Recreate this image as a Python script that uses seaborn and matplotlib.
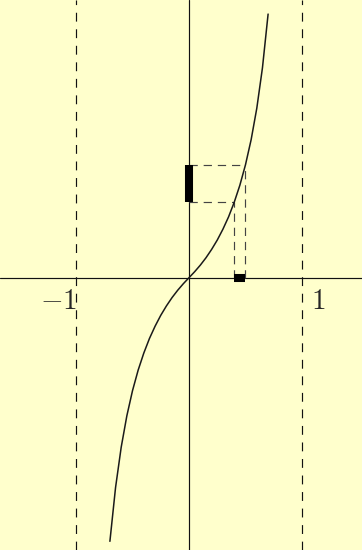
import numpy as np
import pandas as pd
import seaborn as sns
import matplotlib.pyplot as plt

# curve points (x, y in axis units)
curve_x = [-0.70, -0.65, -0.60, -0.55, -0.50, -0.45, -0.40, -0.35, -0.30, -0.25,
           -0.20, -0.15, -0.10, -0.05, 0.00, 0.05, 0.10, 0.15, 0.20, 0.25,
           0.30, 0.35, 0.40, 0.45, 0.50, 0.55, 0.60, 0.65, 0.70]
curve_y = [-2.333, -1.857, -1.500, -1.222, -1.000, -0.818, -0.667, -0.538, -0.429, -0.333,
           -0.250, -0.176, -0.111, -0.053, 0.000, 0.053, 0.111, 0.176, 0.250, 0.333,
           0.429, 0.538, 0.667, 0.818, 1.000, 1.222, 1.500, 1.857, 2.333]

asymptotes = [-1, 1]
tick_labels = ["$-1$", "$1$"]
x_interval = [0.4, 0.5]
y_interval = [0.667, 1.0]

bg = "#ffffcc"
sns.set_style("white")
plt.rcParams["mathtext.fontset"] = "cm"

fig = plt.figure(figsize=(3.62, 5.5), dpi=100, facecolor=bg)
ax = fig.add_axes([0, 0, 1, 1], facecolor=bg)

df = pd.DataFrame({"x": curve_x, "y": curve_y})

# axes
ax.axhline(0, color="#111111", lw=0.85, zorder=2)
ax.axvline(0, color="#111111", lw=0.85, zorder=2)

# asymptotes
for a in asymptotes:
    ax.axvline(a, color="#111111", lw=0.85, dashes=(7.5, 6.5), zorder=2)

# helper dashes
dash_kw = dict(color="#444444", lw=0.85, dashes=(7, 5))
ax.plot([0, x_interval[1]], [y_interval[1], y_interval[1]], **dash_kw)
ax.plot([0, x_interval[0]], [y_interval[0], y_interval[0]], **dash_kw)
ax.plot([x_interval[0], x_interval[0]], [0, y_interval[0]], **dash_kw)
ax.plot([x_interval[1], x_interval[1]], [0, y_interval[1]], **dash_kw)

# thick intervals
ax.plot(x_interval, [0, 0], color="black", lw=5.8, solid_capstyle="butt", zorder=4)
ax.plot([0, 0], y_interval, color="black", lw=5.8, solid_capstyle="butt", zorder=4)

sns.lineplot(data=df, x="x", y="y", sort=False, ax=ax, color="#1a1a1a", lw=1.1, zorder=3)

ax.text(-0.99, -0.08, tick_labels[0], fontsize=21, ha="right", va="top")
ax.text(1.08, -0.08, tick_labels[1], fontsize=21, ha="left", va="top")

ax.set_xlim(-189 / 113, 173 / 113)
ax.set_ylim(-272.3 / 113, 277.7 / 113)
ax.set_axis_off()

fig.savefig("out.png", dpi=100, facecolor=bg)
